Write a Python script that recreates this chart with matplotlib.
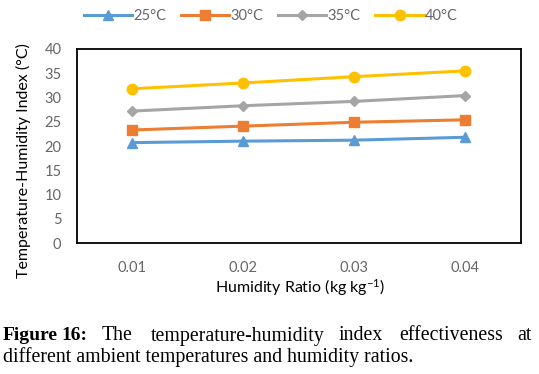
import matplotlib
matplotlib.use("Agg")
import matplotlib.pyplot as plt

plt.rcParams["mathtext.default"] = "regular"

categories = ["0.01", "0.02", "0.03", "0.04"]
series_names = ["25°C", "30°C", "35°C", "40°C"]
t25 = [20.7, 21.0, 21.2, 21.8]
t30 = [23.3, 24.1, 24.9, 25.4]
t35 = [27.2, 28.3, 29.2, 30.4]
t40 = [31.8, 33.0, 34.3, 35.5]
yticks = [0, 5, 10, 15, 20, 25, 30, 35, 40]

colors = ["#5B9BD5", "#ED7D31", "#A5A5A5", "#FFC000"]
markers = ["^", "s", "D", "o"]
msizes = [7.5, 7, 5.5, 7.5]

W, H = 539, 374
fig = plt.figure(figsize=(W / 100, H / 100), dpi=100)
L, R, T, B = 76.7, 521, 49, 243
ax = fig.add_axes([L / W, 1 - B / H, (R - L) / W, (B - T) / H])

x = list(range(len(categories)))
for vals, name, c, m, ms in zip([t25, t30, t35, t40], series_names, colors, markers, msizes):
    ax.plot(x, vals, color=c, marker=m, markersize=ms, linewidth=2.2, label=name)

ax.set_xlim(-0.5, len(categories) - 0.5)
ax.set_ylim(0, 40)
ax.set_xticks(x)
ax.set_xticklabels(categories)
ax.set_yticks(yticks)
tick_font = "Lato"
for lab in ax.get_xticklabels() + ax.get_yticklabels():
    lab.set_fontfamily(tick_font)
    lab.set_fontsize(10.5)
    lab.set_color("#666666")
ax.tick_params(axis="y", length=0, pad=11)
ax.tick_params(axis="x", length=0, pad=13)
for s in ax.spines.values():
    s.set_linewidth(1.3)
    s.set_color("black")

fig.text(300 / W, 1 - 288 / H, "Humidity Ratio (kg kg$^{-1}$)", fontfamily=tick_font,
         fontsize=11.5, ha="center", va="center")
fig.text(23 / W, 1 - 160.5 / H, "Temperature-Humidity Index (°C)", fontfamily=tick_font,
         fontsize=11.5, ha="center", va="center", rotation=90)

leg = fig.legend(loc="center", bbox_to_anchor=(271 / W, 1 - 16 / H), ncol=4, frameon=False,
                 prop={"family": tick_font, "size": 10.5}, handlelength=3.3,
                 columnspacing=1.0, handletextpad=0.1)
for t in leg.get_texts():
    t.set_color("#666666")

serif = "Liberation Serif"
fs = 14.3
fy1 = 1 - 336 / H
fy2 = 1 - 357 / H
fig.text(3 / W, fy1, "Figure", fontfamily=serif, fontweight="bold", fontsize=14, va="center")
fig.text(61 / W, fy1, "16:", fontfamily=serif, fontweight="bold", fontsize=14, va="center")
words = [("The", 102), ("temperature-humidity", 151), ("index", 339), ("effectiveness", 399)]
for w, px in words:
    fig.text(px / W, fy1, w, fontfamily=serif, fontsize=fs, va="center")
fig.text(532 / W, fy1, "at", fontfamily=serif, fontsize=fs, va="center", ha="right")
fig.text(3 / W, fy2, "different ambient temperatures and humidity ratios.", fontfamily=serif,
         fontsize=fs, va="center")

fig.savefig("out.png", dpi=100)
